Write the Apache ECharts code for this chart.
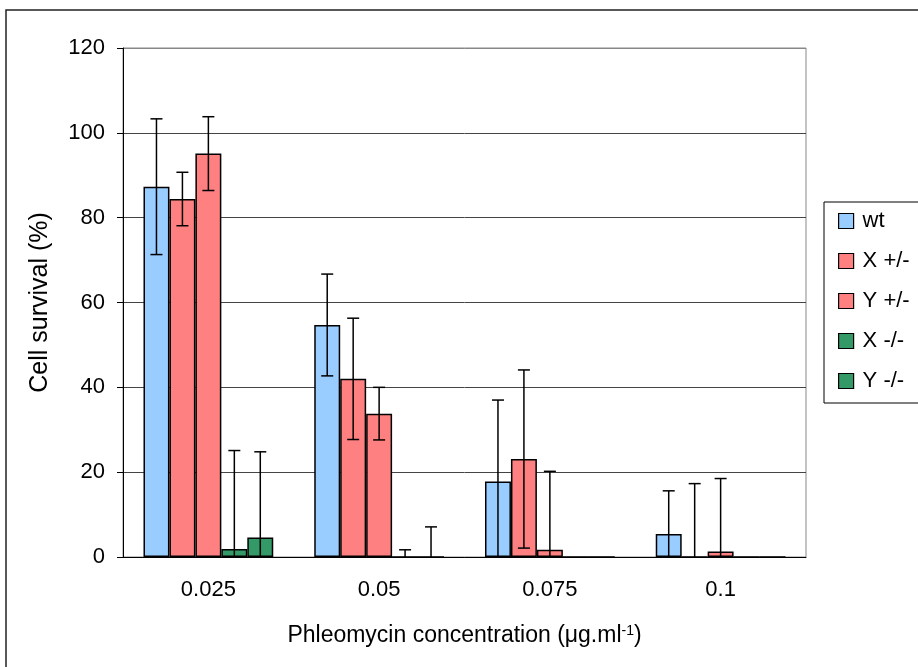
<!DOCTYPE html>
<html>
<head>
<meta charset="utf-8">
<script src="https://cdn.jsdelivr.net/npm/echarts@6/dist/echarts.min.js"></script>
<style>
html, body { margin: 0; padding: 0; background: #fff; }
#J_Chart { width: 918px; height: 667px; }
</style>
</head>
<body>
<div id="J_Chart"></div>
<script>
// data
var categories = ['0.025', '0.05', '0.075', '0.1'];
var seriesNames = ['wt', 'X +/-', 'Y +/-', 'X -/-', 'Y -/-'];
var wt = [87.3, 54.7, 17.8, 5.4];
var wtErr = [16, 12, 19.2, 10.2];
var xHet = [84.4, 42.0, 23.1, 0];
var xHetErr = [6.3, 14.3, 21, 17.3];
var yHet = [95.1, 33.8, 1.7, 1.3];
var yHetErr = [8.7, 6.2, 18.5, 17.2];
var xNull = [1.9, 0, 0, 0];
var xNullErr = [23.2, 1.7, 0, 0];
var yNull = [4.6, 0, 0, 0];
var yNullErr = [20.2, 7.1, 0, 0];
var yTicks = [0, 20, 40, 60, 80, 100, 120];

var values = [wt, xHet, yHet, xNull, yNull];
var errors = [wtErr, xHetErr, yHetErr, xNullErr, yNullErr];
var colors = ['#99CCFF', '#FF8080', '#FF8080', '#339966', '#339966'];
var catGap = 0.24;
var font = '"Liberation Sans", Arial, sans-serif';

var myChart = echarts.init(document.getElementById('J_Chart'));

// error bar points: [category, low, high, series]
var errData = [];
for (var s = 0; s < values.length; s++) {
    for (var i = 0; i < categories.length; i++) {
        if (errors[s][i] > 0) {
            errData.push([i, values[s][i] - errors[s][i], values[s][i] + errors[s][i], s]);
        }
    }
}

function renderErr(params, api) {
    var idx = api.value(0);
    var low = api.value(1);
    var high = api.value(2);
    var s = api.value(3);
    var center = api.coord([idx, 0]);
    var catW = api.size([1, 0])[0];
    var barW = catW * (1 - catGap) / seriesNames.length;
    var x = center[0] - barW * seriesNames.length / 2 + barW * (s + 0.5);
    var yHigh = api.coord([idx, high])[1];
    var yLow = api.coord([idx, Math.max(low, 0)])[1];
    var style = { stroke: '#000', lineWidth: 1.5 };
    var half = 6;
    var children = [
        { type: 'line', shape: { x1: x, y1: yLow, x2: x, y2: yHigh }, style: style },
        { type: 'line', shape: { x1: x - half, y1: yHigh, x2: x + half, y2: yHigh }, style: style }
    ];
    // lower cap only when it sits above the axis
    if (low > 0) {
        children.push({ type: 'line', shape: { x1: x - half, y1: yLow, x2: x + half, y2: yLow }, style: style });
    }
    return { type: 'group', children: children };
}

var series = [];
for (var k = 0; k < seriesNames.length; k++) {
    series.push({
        name: seriesNames[k],
        type: 'bar',
        data: values[k],
        barGap: '0%',
        barCategoryGap: (catGap * 100) + '%',
        itemStyle: { color: colors[k], borderColor: '#000', borderWidth: 1.5 },
        animation: false
    });
}
series.push({
    type: 'custom',
    renderItem: renderErr,
    data: errData,
    encode: { x: 0, y: [1, 2] },
    z: 5,
    animation: false
});

var option = {
    textStyle: { fontFamily: font },
    animation: false,
    grid: { left: 123, right: 112, top: 48, bottom: 110, show: true, borderColor: '#888', borderWidth: 1 },
    legend: {
        data: seriesNames,
        orient: 'vertical',
        left: 824,
        top: 202,
        itemWidth: 15,
        itemHeight: 15,
        itemGap: 18,
        padding: [8, 60, 11, 14],
        borderColor: '#000',
        borderWidth: 1,
        icon: 'rect',
        itemStyle: { borderColor: '#000', borderWidth: 1.2 },
        textStyle: { fontSize: 22, lineHeight: 22, color: '#000', fontFamily: font, padding: [0, 0, 0, 4] }
    },
    xAxis: {
        type: 'category',
        data: categories,
        name: 'Phleomycin concentration (μg.ml{sup|-1})',
        nameLocation: 'middle',
        nameGap: 67,
        nameTextStyle: {
            fontSize: 23, color: '#000', fontFamily: font,
            rich: { sup: { fontSize: 14, verticalAlign: 'top', color: '#000', fontFamily: font } }
        },
        axisLine: { lineStyle: { color: '#000', width: 1 } },
        axisTick: { length: 7, lineStyle: { color: '#000' } },
        axisLabel: { fontSize: 22, color: '#000', margin: 22, fontFamily: font }
    },
    yAxis: {
        type: 'value',
        min: 0,
        max: 120,
        interval: 20,
        name: 'Cell survival (%)',
        nameLocation: 'middle',
        nameGap: 70,
        nameTextStyle: { fontSize: 25, color: '#000', fontFamily: font },
        axisLine: { show: true, lineStyle: { color: '#000', width: 1 } },
        axisTick: { show: true, length: 6, lineStyle: { color: '#000' } },
        axisLabel: { fontSize: 22, color: '#000', margin: 18, fontFamily: font },
        splitLine: { lineStyle: { color: ['#444', '#444', '#444', '#444', '#444', '#444', '#888'], width: 1 } }
    },
    graphic: [{
        type: 'rect',
        shape: { x: 6, y: 10, width: 1000, height: 1000 },
        style: { fill: 'none', stroke: '#222', lineWidth: 1.5 },
        silent: true
    }],
    series: series
};
myChart.setOption(option);
</script>
</body>
</html>
